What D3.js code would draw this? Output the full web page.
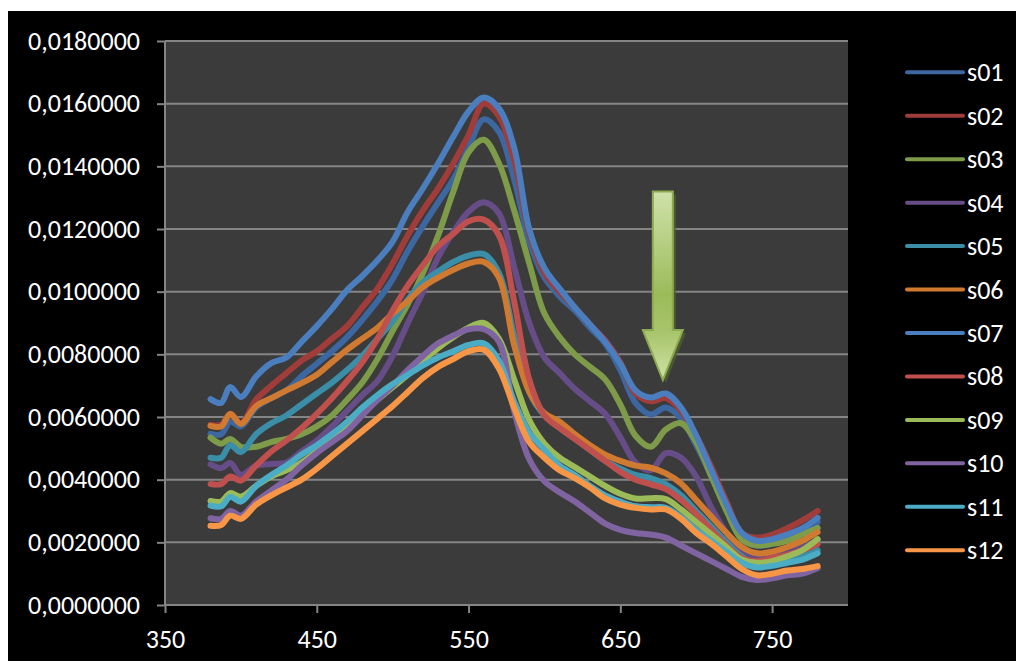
<!DOCTYPE html>
<html><head><meta charset="utf-8">
<script src="https://cdn.jsdelivr.net/npm/d3@7"></script>
<style>
html,body{margin:0;padding:0;background:#fff;}
svg{display:block;}
text{font-family:"Carlito","Lato","Liberation Sans",sans-serif;}
</style></head>
<body>
<svg id="chart" width="1021" height="665"></svg>
<script>
const wavelengths = [380,387,393,400,410,420,430,440,450,460,470,480,490,500,510,520,530,540,550,560,570,580,590,600,610,620,630,640,650,660,670,680,690,700,710,720,730,740,750,760,770,780];
const seriesNames = ["s01","s02","s03","s04","s05","s06","s07","s08","s09","s10","s11","s12"];
const s01 = [0.00546,0.00545,0.00585,0.00570,0.00630,0.00660,0.00685,0.00730,0.00770,0.00810,0.00855,0.00910,0.00970,0.01040,0.01130,0.01210,0.01285,0.01360,0.01460,0.01550,0.01510,0.01360,0.01160,0.01045,0.00985,0.00940,0.00885,0.00835,0.00750,0.00645,0.00608,0.00630,0.00595,0.00510,0.00410,0.00300,0.00210,0.00190,0.00195,0.00210,0.00235,0.00265];
const s02 = [0.00575,0.00575,0.00610,0.00580,0.00655,0.00700,0.00740,0.00780,0.00810,0.00850,0.00890,0.00950,0.01010,0.01090,0.01180,0.01260,0.01330,0.01410,0.01500,0.01600,0.01560,0.01420,0.01190,0.01060,0.01000,0.00950,0.00895,0.00845,0.00775,0.00675,0.00650,0.00660,0.00620,0.00540,0.00440,0.00330,0.00230,0.00215,0.00225,0.00245,0.00270,0.00300];
const s03 = [0.00534,0.00515,0.00530,0.00505,0.00505,0.00520,0.00530,0.00545,0.00570,0.00605,0.00655,0.00710,0.00785,0.00875,0.00960,0.01060,0.01180,0.01320,0.01445,0.01485,0.01410,0.01260,0.01090,0.00930,0.00855,0.00800,0.00760,0.00720,0.00640,0.00540,0.00505,0.00560,0.00580,0.00520,0.00410,0.00300,0.00210,0.00190,0.00195,0.00205,0.00225,0.00246];
const s04 = [0.00449,0.00437,0.00453,0.00415,0.00445,0.00450,0.00455,0.00490,0.00525,0.00570,0.00620,0.00670,0.00715,0.00795,0.00900,0.01000,0.01110,0.01190,0.01255,0.01285,0.01250,0.01080,0.00900,0.00790,0.00740,0.00690,0.00650,0.00610,0.00535,0.00455,0.00430,0.00485,0.00470,0.00410,0.00310,0.00230,0.00170,0.00155,0.00160,0.00170,0.00185,0.00207];
const s05 = [0.00470,0.00470,0.00510,0.00488,0.00545,0.00580,0.00605,0.00640,0.00675,0.00710,0.00750,0.00795,0.00850,0.00905,0.00975,0.01030,0.01065,0.01095,0.01115,0.01120,0.01060,0.00860,0.00680,0.00605,0.00565,0.00530,0.00495,0.00460,0.00435,0.00415,0.00405,0.00385,0.00350,0.00300,0.00250,0.00200,0.00155,0.00130,0.00135,0.00145,0.00155,0.00175];
const s06 = [0.00572,0.00570,0.00610,0.00578,0.00635,0.00660,0.00685,0.00708,0.00735,0.00775,0.00815,0.00850,0.00885,0.00930,0.00970,0.01015,0.01045,0.01070,0.01090,0.01095,0.01045,0.00830,0.00680,0.00612,0.00585,0.00545,0.00510,0.00480,0.00460,0.00445,0.00438,0.00420,0.00388,0.00335,0.00282,0.00230,0.00185,0.00165,0.00170,0.00185,0.00205,0.00233];
const s07 = [0.00657,0.00645,0.00696,0.00664,0.00729,0.00772,0.00790,0.00840,0.00890,0.00945,0.01005,0.01050,0.01100,0.01160,0.01255,0.01330,0.01410,0.01495,0.01575,0.01620,0.01585,0.01460,0.01200,0.01075,0.01010,0.00950,0.00895,0.00840,0.00770,0.00685,0.00662,0.00675,0.00630,0.00540,0.00430,0.00320,0.00230,0.00205,0.00210,0.00225,0.00245,0.00278];
const s08 = [0.00386,0.00386,0.00410,0.00397,0.00445,0.00490,0.00525,0.00565,0.00610,0.00660,0.00715,0.00775,0.00850,0.00940,0.01020,0.01085,0.01145,0.01185,0.01225,0.01230,0.01180,0.00970,0.00720,0.00605,0.00565,0.00530,0.00495,0.00460,0.00425,0.00400,0.00385,0.00370,0.00335,0.00290,0.00240,0.00190,0.00150,0.00140,0.00150,0.00160,0.00175,0.00195];
const s09 = [0.00332,0.00330,0.00357,0.00346,0.00380,0.00410,0.00430,0.00455,0.00490,0.00530,0.00570,0.00615,0.00655,0.00695,0.00735,0.00780,0.00820,0.00855,0.00885,0.00900,0.00850,0.00720,0.00590,0.00515,0.00470,0.00440,0.00410,0.00380,0.00355,0.00340,0.00341,0.00338,0.00305,0.00265,0.00225,0.00185,0.00145,0.00135,0.00140,0.00155,0.00175,0.00210];
const s10 = [0.00277,0.00275,0.00300,0.00285,0.00330,0.00365,0.00400,0.00445,0.00485,0.00520,0.00555,0.00605,0.00655,0.00700,0.00750,0.00795,0.00835,0.00860,0.00880,0.00880,0.00840,0.00620,0.00465,0.00395,0.00360,0.00330,0.00295,0.00260,0.00240,0.00230,0.00225,0.00215,0.00190,0.00165,0.00140,0.00115,0.00090,0.00080,0.00085,0.00095,0.00100,0.00118];
const s11 = [0.00317,0.00315,0.00345,0.00330,0.00380,0.00415,0.00445,0.00480,0.00510,0.00545,0.00585,0.00630,0.00670,0.00705,0.00735,0.00765,0.00790,0.00810,0.00830,0.00835,0.00780,0.00650,0.00550,0.00495,0.00445,0.00415,0.00380,0.00350,0.00330,0.00315,0.00312,0.00310,0.00280,0.00240,0.00205,0.00170,0.00135,0.00120,0.00125,0.00135,0.00145,0.00165];
const s12 = [0.00253,0.00255,0.00285,0.00275,0.00320,0.00350,0.00375,0.00400,0.00435,0.00475,0.00515,0.00555,0.00595,0.00635,0.00680,0.00725,0.00760,0.00785,0.00810,0.00815,0.00755,0.00630,0.00520,0.00470,0.00430,0.00405,0.00375,0.00340,0.00320,0.00310,0.00305,0.00305,0.00275,0.00230,0.00195,0.00155,0.00115,0.00095,0.00100,0.00110,0.00115,0.00124];
const seriesValues = [s01,s02,s03,s04,s05,s06,s07,s08,s09,s10,s11,s12];
const seriesColors = ["#3c67a0","#a03c3a","#7d9b48","#664d88","#3a8ea8","#cf7a30","#4a7ebf","#c0504d","#9bbb59","#8064a2","#4bacc6","#f79646"];
const yTicks = [0,0.002,0.004,0.006,0.008,0.010,0.012,0.014,0.016,0.018];
const xTicks = [350,450,550,650,750];
const arrowAt = {w:678, top:0.0132, tip:0.00718};

const svg = d3.select("#chart");
svg.append("rect").attr("x",8).attr("y",11).attr("width",1008).attr("height",650).attr("fill","#000");

const plot = {l:165, r:848, t:41, b:605};
const x = d3.scaleLinear().domain([350,800]).range([plot.l, plot.r]);
const y = d3.scaleLinear().domain([0,0.018]).range([plot.b, plot.t]);

svg.append("rect").attr("x",plot.l).attr("y",plot.t).attr("width",plot.r-plot.l).attr("height",plot.b-plot.t).attr("fill","#3b3b3b");

svg.append("g").selectAll("line").data(yTicks).join("line")
  .attr("x1",plot.l).attr("x2",plot.r).attr("y1",d=>y(d)).attr("y2",d=>y(d))
  .attr("stroke","#858585").attr("stroke-width",2);

const FONT = '"Carlito","Lato","Liberation Sans",sans-serif';
const fmt = d => d3.format(".7f")(d).replace(".",",");
const yAxis = svg.append("g").attr("transform",`translate(${plot.l},0)`)
  .call(d3.axisLeft(y).tickValues(yTicks).tickFormat(fmt).tickSize(8).tickPadding(17));
const xAxis = svg.append("g").attr("transform",`translate(0,${plot.b})`)
  .call(d3.axisBottom(x).tickValues(xTicks).tickFormat(d3.format("d")).tickSize(8).tickPadding(17));
[yAxis,xAxis].forEach(g=>{
  g.select(".domain").attr("stroke","#858585").attr("stroke-width",2);
  g.selectAll(".tick line").attr("stroke","#858585").attr("stroke-width",2);
  g.selectAll(".tick text").attr("fill","#fff").style("font-size","26px").style("font-family",FONT);
});
xAxis.select(".domain").attr("d",`M${plot.l},0H${plot.r}`);
yAxis.select(".domain").attr("d",`M0,${plot.b}V${plot.t}`);

const line = d3.line().x((d,i)=>x(wavelengths[i])).y(d=>y(d)).curve(d3.curveCatmullRom.alpha(0.5));
svg.append("g").selectAll("path").data(seriesValues).join("path")
  .attr("d",d=>line(d)).attr("fill","none")
  .attr("stroke",(d,i)=>seriesColors[i]).attr("stroke-width",6)
  .attr("stroke-linejoin","round").attr("stroke-linecap","round");

// arrow annotation
const defs = svg.append("defs");
const grad = defs.append("linearGradient").attr("id","ag").attr("x1",0).attr("y1",0).attr("x2",0).attr("y2",1);
[["0%","#cfe2aa"],["55%","#9bbb59"],["75%","#a9c56c"],["100%","#cde2a6"]].forEach(s=>grad.append("stop").attr("offset",s[0]).attr("stop-color",s[1]));
const ax = x(arrowAt.w), at = y(arrowAt.top), tip = y(arrowAt.tip);
const shaftHalf = 10, headHalf = 20, headTop = tip - 50;
const arrowPath = `M${ax-shaftHalf},${at}H${ax+shaftHalf}V${headTop}H${ax+headHalf}L${ax},${tip}L${ax-headHalf},${headTop}H${ax-shaftHalf}Z`;
svg.append("path").attr("d",arrowPath).attr("fill","#4f6230").attr("transform","translate(3,3)").attr("opacity",0.8);
svg.append("path").attr("d",arrowPath).attr("fill","url(#ag)").attr("stroke","#8caa50").attr("stroke-width",2);

// legend
const items = svg.append("g").selectAll("g").data(seriesNames).join("g")
  .attr("transform",(d,i)=>`translate(907,${72.3+i*43.45})`);
items.append("line").attr("x1",0).attr("x2",56).attr("y1",0).attr("y2",0)
  .attr("stroke",(d,i)=>seriesColors[i]).attr("stroke-width",4).attr("stroke-linecap","round");
items.append("text").attr("x",60).attr("y",9).attr("fill","#fff").style("font-size","26px").style("font-family",FONT).text(d=>d);
</script>
</body></html>
